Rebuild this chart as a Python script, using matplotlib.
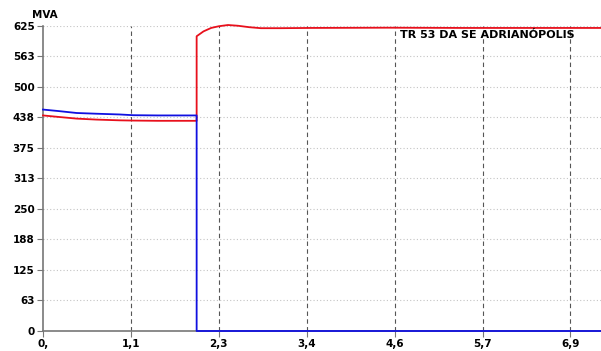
import matplotlib
matplotlib.use("Agg")
import matplotlib.pyplot as plt

plt.rcParams["font.family"] = ["DejaVu Sans"]
plt.rcParams["font.weight"] = "bold"

# blue: before the trip, then zero
blue_t = [0.0, 0.2, 0.44, 0.7, 1.0, 1.18, 1.5, 1.8, 2.01, 2.01, 7.3]
blue_v = [453, 450, 446, 444.5, 443, 441.5, 441, 441, 441, 0, 0]

# red: before and after the trip
red_t = [0.0, 0.2, 0.44, 0.7, 1.0, 1.18, 1.5, 1.8, 2.01, 2.01, 2.1, 2.2, 2.3, 2.42,
         2.55, 2.7, 2.85, 3.1, 3.5, 4.5, 5.5, 6.5, 7.3]
red_v = [441, 438, 434.5, 432.5, 431, 430.5, 430, 430, 430, 603, 613, 620, 623.5, 626,
         624.5, 621.5, 619.5, 619.5, 620, 620.5, 620, 620, 620]

x_ticks = [0, 1.15, 2.3, 3.45, 4.6, 5.75, 6.9]
x_labels = ["0,", "1,1", "2,3", "3,4", "4,6", "5,7", "6,9"]
y_ticks = [0, 62.5, 125, 187.5, 250, 312.5, 375, 437.5, 500, 562.5, 625]
y_labels = ["0", "63", "125", "188", "250", "313", "375", "438", "500", "563", "625"]

fig = plt.figure(figsize=(6.01, 3.51), dpi=100)
ax = fig.add_axes([43 / 601, 20 / 351, 1 - 43 / 601, 305.5 / 351])

for y in y_ticks[1:]:
    ax.axhline(y, color="#c4c4c4", linestyle=(0, (1, 2)), linewidth=0.8, zorder=1)
for x in x_ticks[1:]:
    ax.axvline(x, color="#555555", linestyle=(0, (4, 3)), linewidth=0.8, zorder=1)

ax.plot(red_t, red_v, color="#e8101c", linewidth=1.3, zorder=3, clip_on=False)
ax.plot(blue_t, blue_v, color="#1010e0", linewidth=1.3, zorder=3, clip_on=False)

ax.set_xlim(0, 7.3)
ax.set_ylim(0, 625)
ax.set_xticks(x_ticks)
ax.set_xticklabels(x_labels)
ax.set_yticks(y_ticks)
ax.set_yticklabels(y_labels)
ax.tick_params(labelsize=7.5, length=4, color="#777777", width=0.8, pad=2)
for s in ["top", "right"]:
    ax.spines[s].set_visible(False)
for s in ["left", "bottom"]:
    ax.spines[s].set_color("#777777")
    ax.spines[s].set_linewidth(1.2)

fig.text(32 / 601, 1 - 15 / 351, "MVA", fontsize=7.5, fontweight="bold", va="center")
ax.text((400 - 43) / 558, 0.985, "TR 53 DA SE ADRIANÓPOLIS",
        transform=ax.transAxes, fontsize=8, fontweight="bold", va="top")

fig.savefig("out.png", dpi=100)
